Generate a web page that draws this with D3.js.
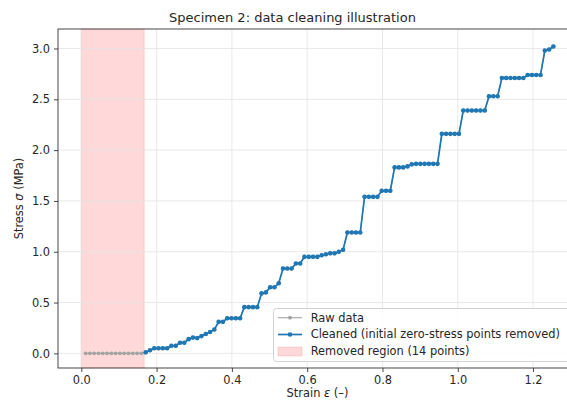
<!DOCTYPE html>
<html>
<head>
<meta charset="utf-8">
<script src="https://cdn.jsdelivr.net/npm/d3@7"></script>
<style>
    body { margin: 0; background: #fff; }
    svg { display: block; font-family: "DejaVu Sans", sans-serif; }
</style>
</head>
<body>
<div id="container"></div>
<script>
// Strain values of every raw sample (first 14 have zero stress)
const strain = [
    0.0114, 0.0228, 0.0342, 0.0456, 0.057, 0.0684, 0.0798, 0.0912, 0.1026, 0.114, 0.1254, 0.1368, 0.1482, 0.1596,
    0.171, 0.1824, 0.1938, 0.2052, 0.2166, 0.228, 0.2394, 0.2508, 0.2622, 0.2736,
    0.285, 0.2964, 0.3078, 0.3192, 0.3306, 0.342, 0.3534, 0.3648, 0.3762, 0.3876,
    0.399, 0.4104, 0.4218, 0.4332, 0.4446, 0.456, 0.4674, 0.4788, 0.4902, 0.5016,
    0.513, 0.5244, 0.5358, 0.5472, 0.5586, 0.57, 0.5814, 0.5928, 0.6042, 0.6156,
    0.627, 0.6384, 0.6498, 0.6612, 0.6726, 0.684, 0.6954, 0.7068, 0.7182, 0.7296,
    0.741, 0.7524, 0.7638, 0.7752, 0.7866, 0.798, 0.8094, 0.8208, 0.8322, 0.8436,
    0.855, 0.8664, 0.8778, 0.8892, 0.9006, 0.912, 0.9234, 0.9348, 0.9462, 0.9576,
    0.969, 0.9804, 0.9918, 1.0032, 1.0146, 1.026, 1.0374, 1.0488, 1.0602, 1.0716,
    1.083, 1.0944, 1.1058, 1.1172, 1.1286, 1.14, 1.1514, 1.1628, 1.1742, 1.1856,
    1.197, 1.2084, 1.2198, 1.2312, 1.2426, 1.254
];

// Stress in MPa, same order as strain
const stress = [
    0, 0, 0, 0, 0, 0, 0, 0, 0, 0, 0, 0, 0, 0,
    0.01, 0.03, 0.05, 0.05, 0.05, 0.05, 0.075, 0.075, 0.105, 0.105,
    0.14, 0.155, 0.15, 0.17, 0.19, 0.21, 0.235, 0.31, 0.31, 0.345,
    0.345, 0.345, 0.345, 0.455, 0.455, 0.455, 0.455, 0.59, 0.6, 0.65,
    0.65, 0.69, 0.835, 0.835, 0.835, 0.885, 0.885, 0.95, 0.95, 0.95,
    0.95, 0.965, 0.975, 0.985, 0.985, 1.0, 1.02, 1.19, 1.19, 1.19,
    1.19, 1.54, 1.54, 1.54, 1.54, 1.6, 1.6, 1.6, 1.83, 1.83,
    1.83, 1.84, 1.86, 1.865, 1.865, 1.865, 1.865, 1.865, 1.865, 2.16,
    2.16, 2.16, 2.16, 2.16, 2.39, 2.39, 2.39, 2.39, 2.39, 2.39,
    2.53, 2.53, 2.53, 2.71, 2.71, 2.71, 2.71, 2.71, 2.71, 2.74,
    2.74, 2.74, 2.74, 2.98, 2.99, 3.02
];

const removedCount = 14;
const xTicks = [0, 0.2, 0.4, 0.6, 0.8, 1.0, 1.2];
const yTicks = [0, 0.5, 1.0, 1.5, 2.0, 2.5, 3.0];
const legendLabels = [
    "Raw data",
    "Cleaned (initial zero-stress points removed)",
    "Removed region (" + removedCount + " points)"
];

const width = 567;
const height = 408;
const plot = {left: 58, right: 577, top: 29, bottom: 368};

const blue = "#1f77b4";
const grey = "#a3a3a3";
const pink = "#ffd9d9";

const raw = strain.map((s, i) => ({x: s, y: stress[i]}));
const cleaned = raw.slice(removedCount);

const scaleX = d3.scaleLinear().domain([-0.0619, 1.3167]).range([plot.left, plot.right]);
const scaleY = d3.scaleLinear().domain([-0.144, 3.192]).range([plot.bottom, plot.top]);

const svg = d3.select("#container")
    .append("svg")
    .attr("width", width)
    .attr("height", height);

svg.append("clipPath").attr("id", "clip")
    .append("rect")
    .attr("x", plot.left).attr("y", plot.top)
    .attr("width", plot.right - plot.left)
    .attr("height", plot.bottom - plot.top);

// removed region, up to the first kept sample
svg.append("rect")
    .attr("x", scaleX(0))
    .attr("y", plot.top)
    .attr("width", scaleX(strain[removedCount]) - scaleX(0) - 1.5)
    .attr("height", plot.bottom - plot.top)
    .attr("fill", pink)
    .attr("stroke", "rgba(255,0,0,0.12)")
    .attr("stroke-width", 1);

// grid
const grid = svg.append("g").attr("stroke", "#e3e3e3").attr("stroke-width", 0.8);
grid.selectAll(".gx").data(xTicks).enter().append("line")
    .attr("x1", d => scaleX(d)).attr("x2", d => scaleX(d))
    .attr("y1", plot.top).attr("y2", plot.bottom);
grid.selectAll(".gy").data(yTicks).enter().append("line")
    .attr("x1", plot.left).attr("x2", plot.right)
    .attr("y1", d => scaleY(d)).attr("y2", d => scaleY(d));

const line = d3.line().x(d => scaleX(d.x)).y(d => scaleY(d.y));
const data = svg.append("g").attr("clip-path", "url(#clip)");

// raw data
data.append("path")
    .datum(raw)
    .attr("fill", "none")
    .attr("stroke", grey)
    .attr("stroke-width", 1.1)
    .attr("d", line);
data.selectAll(".raw").data(raw).enter().append("circle")
    .attr("cx", d => scaleX(d.x)).attr("cy", d => scaleY(d.y))
    .attr("r", 1.9).attr("fill", grey);

// cleaned data
data.append("path")
    .datum(cleaned)
    .attr("fill", "none")
    .attr("stroke", blue)
    .attr("stroke-width", 1.7)
    .attr("stroke-linejoin", "round")
    .attr("d", line);
data.selectAll(".clean").data(cleaned).enter().append("circle")
    .attr("cx", d => scaleX(d.x)).attr("cy", d => scaleY(d.y))
    .attr("r", 2.3).attr("fill", blue);

// axes
const xAxis = svg.append("g")
    .attr("transform", "translate(0," + plot.bottom + ")")
    .call(d3.axisBottom(scaleX).tickValues(xTicks).tickFormat(d3.format(".1f")).tickSize(4).tickPadding(4));
const yAxis = svg.append("g")
    .attr("transform", "translate(" + plot.left + ",0)")
    .call(d3.axisLeft(scaleY).tickValues(yTicks).tickFormat(d3.format(".1f")).tickSize(4).tickPadding(4));
for (const ax of [xAxis, yAxis]) {
    ax.select(".domain").remove();
    ax.selectAll("line").attr("stroke", "#333").attr("stroke-width", 0.9);
    ax.selectAll("text").attr("fill", "#262626").style("font-size", "11.4px").style("font-family", "DejaVu Sans");
}

// spines
svg.append("rect")
    .attr("x", plot.left).attr("y", plot.top)
    .attr("width", plot.right - plot.left)
    .attr("height", plot.bottom - plot.top)
    .attr("fill", "none")
    .attr("stroke", "#333")
    .attr("stroke-width", 0.9);

// title and labels
svg.append("text")
    .attr("x", 292.5).attr("y", 22)
    .attr("text-anchor", "middle")
    .attr("fill", "#262626")
    .style("font-size", "13px")
    .text("Specimen 2: data cleaning illustration");

const xl = svg.append("text")
    .attr("x", (plot.left + plot.right) / 2).attr("y", 397)
    .attr("text-anchor", "middle")
    .attr("fill", "#262626")
    .style("font-size", "11.4px");
xl.append("tspan").text("Strain ");
xl.append("tspan").attr("font-style", "italic").text("ε");
xl.append("tspan").text(" (–)");

const yl = svg.append("text")
    .attr("transform", "translate(18.5," + (plot.top + plot.bottom) / 2 + ") rotate(-90)")
    .attr("text-anchor", "middle")
    .attr("dy", "0.35em")
    .attr("fill", "#262626")
    .style("font-size", "11.4px");
yl.append("tspan").text("Stress ");
yl.append("tspan").attr("font-style", "italic").text("σ");
yl.append("tspan").text(" (MPa)");

// legend
const legend = svg.append("g");
legend.append("rect")
    .attr("x", 273.5).attr("y", 308.5)
    .attr("width", 298).attr("height", 53)
    .attr("rx", 3)
    .attr("fill", "rgba(255,255,255,0.85)")
    .attr("stroke", "#cccccc")
    .attr("stroke-width", 0.9);
const rowY = [317.7, 334.5, 351.5];
legendLabels.forEach((label, i) => {
    const y = rowY[i];
    if (i < 2) {
        const c = i === 0 ? grey : blue;
        legend.append("line")
            .attr("x1", 278).attr("x2", 302).attr("y1", y).attr("y2", y)
            .attr("stroke", c).attr("stroke-width", i === 0 ? 1.1 : 1.7);
        legend.append("circle").attr("cx", 290).attr("cy", y).attr("r", i === 0 ? 1.9 : 2.3).attr("fill", c);
    } else {
        legend.append("rect")
            .attr("x", 278).attr("y", y - 4.5).attr("width", 24).attr("height", 9)
            .attr("fill", pink).attr("stroke", "rgba(255,0,0,0.12)");
    }
    legend.append("text")
        .attr("x", 310.7).attr("y", y).attr("dy", "0.35em")
        .attr("fill", "#262626")
        .style("font-size", "11.4px")
        .text(label);
});
</script>
</body>
</html>
